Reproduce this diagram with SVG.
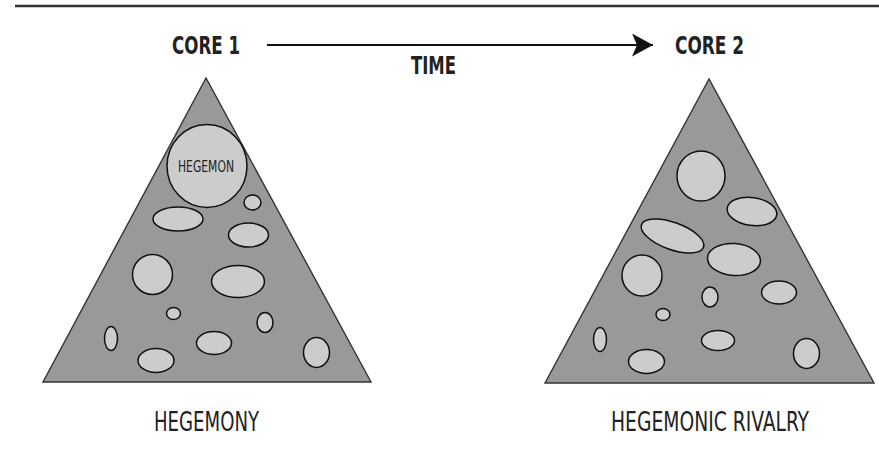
<svg xmlns="http://www.w3.org/2000/svg" width="879" height="457" viewBox="0 0 879 457">
<defs>
<style>
.bg{fill:#ffffff}
.rule{stroke:#333333;stroke-width:2.5;fill:none}
.tri{fill:#999999;stroke:#333333;stroke-width:1.4;stroke-linejoin:miter}
.blob{fill:#cccccc;stroke:#111111;stroke-width:1.5}
.head{font-family:"DejaVu Sans Condensed","DejaVu Sans",sans-serif;font-weight:bold;font-stretch:condensed;fill:#222222}
.lab{font-family:"DejaVu Sans Condensed","DejaVu Sans",sans-serif;font-stretch:condensed;fill:#222222}
.conn{stroke:#111111;stroke-width:2;fill:none}
</style>
<marker id="arrow" markerUnits="userSpaceOnUse" markerWidth="22" markerHeight="24" refX="21" refY="11.5" orient="auto" viewBox="0 0 22 24">
<path d="M0,0 L21,11.5 L0,23 L5,11.5 Z" fill="#111111"/>
</marker>
</defs>
<rect class="bg" x="0" y="0" width="879" height="457"/>
<line class="rule" x1="15" y1="6" x2="879" y2="6"/>

<g id="connectors">
<line class="conn" x1="267" y1="45" x2="653" y2="45" marker-end="url(#arrow)"/>
</g>

<g id="label-time">
<text class="head" x="411" y="74" font-size="24.5" textLength="45" lengthAdjust="spacingAndGlyphs">TIME</text>
</g>

<g id="core1">
<text class="head" x="172" y="54" font-size="25" textLength="68" lengthAdjust="spacingAndGlyphs">CORE 1</text>
<polygon class="tri" points="206,78 43,382 371,382"/>
<ellipse class="blob" cx="207" cy="166" rx="40" ry="41.5"/>
<text class="lab" x="178" y="172" font-size="15.5" textLength="56" lengthAdjust="spacingAndGlyphs">HEGEMON</text>
<ellipse class="blob" cx="252.5" cy="202.5" rx="8.5" ry="7.5"/>
<ellipse class="blob" cx="178" cy="219" rx="25" ry="12"/>
<ellipse class="blob" cx="248.5" cy="235" rx="20" ry="12"/>
<ellipse class="blob" cx="152.5" cy="274.5" rx="20" ry="20"/>
<ellipse class="blob" cx="238" cy="281.5" rx="26.5" ry="16"/>
<ellipse class="blob" cx="173.5" cy="313.5" rx="7" ry="6"/>
<ellipse class="blob" cx="265" cy="322.5" rx="8" ry="10"/>
<ellipse class="blob" cx="111" cy="338.5" rx="6.5" ry="12"/>
<ellipse class="blob" cx="214" cy="343" rx="17.5" ry="11.5"/>
<ellipse class="blob" cx="156" cy="360.5" rx="18" ry="12"/>
<ellipse class="blob" cx="316.5" cy="352.5" rx="13" ry="15"/>
<text class="lab" x="154" y="431" font-size="26" textLength="105" lengthAdjust="spacingAndGlyphs">HEGEMONY</text>
</g>

<g id="core2">
<text class="head" x="675" y="54" font-size="25" textLength="69" lengthAdjust="spacingAndGlyphs">CORE 2</text>
<polygon class="tri" points="709,79 545,383 874,383"/>
<ellipse class="blob" cx="701" cy="176" rx="24" ry="25"/>
<ellipse class="blob" cx="752" cy="211.5" rx="25" ry="14" transform="rotate(8 752 211.5)"/>
<ellipse class="blob" cx="672.5" cy="236" rx="33" ry="13.5" transform="rotate(20 672.5 236)"/>
<ellipse class="blob" cx="734" cy="259.5" rx="26.5" ry="16" transform="rotate(4 734 259.5)"/>
<ellipse class="blob" cx="642" cy="275.5" rx="20" ry="20.5"/>
<ellipse class="blob" cx="710" cy="297" rx="8" ry="10"/>
<ellipse class="blob" cx="779" cy="292.5" rx="17.5" ry="11.5"/>
<ellipse class="blob" cx="663" cy="314.5" rx="7" ry="6"/>
<ellipse class="blob" cx="600" cy="339.5" rx="6.5" ry="12"/>
<ellipse class="blob" cx="718" cy="340.5" rx="16.5" ry="10"/>
<ellipse class="blob" cx="646.5" cy="361.5" rx="18" ry="12"/>
<ellipse class="blob" cx="806.5" cy="353.5" rx="13" ry="15"/>
<text class="lab" x="611" y="431" font-size="26" textLength="198" lengthAdjust="spacingAndGlyphs">HEGEMONIC RIVALRY</text>
</g>
</svg>
